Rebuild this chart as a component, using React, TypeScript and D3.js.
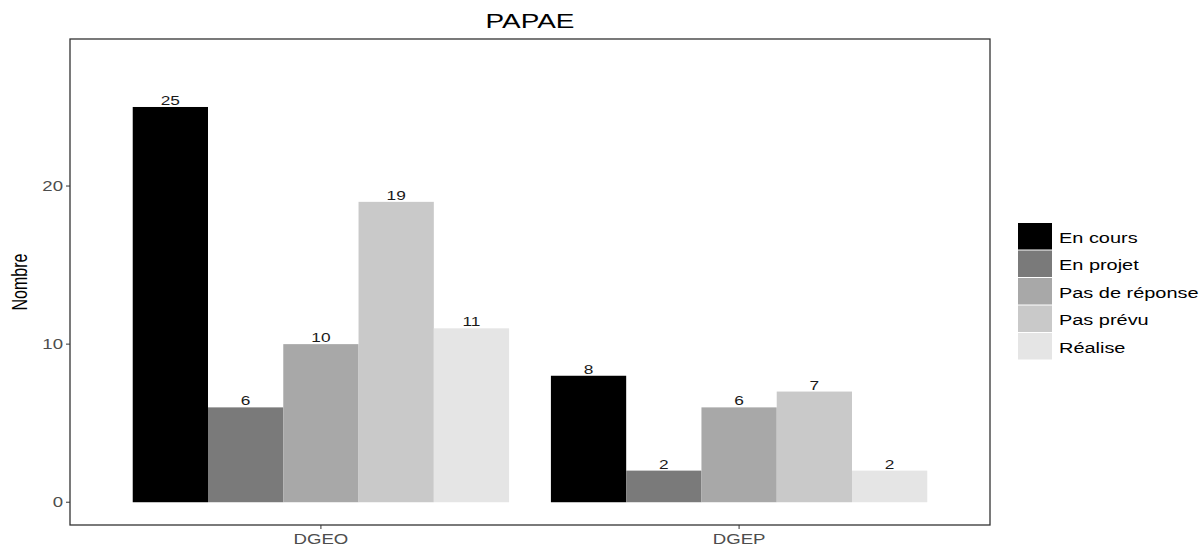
import { useEffect, useRef } from "react";
import * as d3 from "d3";

const groups = ["DGEO", "DGEP"];
const statuses = ["En cours", "En projet", "Pas de réponse", "Pas prévu", "Réalise"];
const dgeoValues = [25, 6, 10, 19, 11];
const dgepValues = [8, 2, 6, 7, 2];
const yTicks = [0, 10, 20];
const greys = ["#000000", "#7a7a7a", "#a8a8a8", "#c9c9c9", "#e5e5e5"];

const App = () => {
  const chartRef = useRef(null);

  useEffect(() => {
    if (!chartRef.current) return;
    const svg = d3.select(chartRef.current);
    svg.selectAll("*").remove();

    const width = 1201;
    const height = 546;
    const panel = { left: 70, right: 990, top: 39, bottom: 525 };
    const sx = 1.33; // the picture is stretched horizontally
    const font = "Liberation Sans, Arial, sans-serif";

    svg.attr("viewBox", [0, 0, width, height]);

    const rows = groups.map((g, i) => ({
      group: g,
      values: i === 0 ? dgeoValues : dgepValues,
    }));

    const x0 = d3
      .scaleBand()
      .domain(groups)
      .range([panel.left, panel.right])
      .paddingInner(0.1)
      .paddingOuter(0.15);
    const x1 = d3.scaleBand().domain(statuses).range([0, x0.bandwidth()]);
    const y = d3.scaleLinear().domain([-1.44, 29.3]).range([panel.bottom, panel.top]);
    const color = d3.scaleOrdinal<string, string>().domain(statuses).range(greys);

    // stretched text helper
    const text = (g: any, px: number, py: number, s: string, size: number, anchor: string, fill: string) =>
      g
        .append("text")
        .attr("transform", `translate(${px},${py}) scale(${sx},1)`)
        .attr("text-anchor", anchor)
        .attr("font-family", font)
        .attr("font-size", size)
        .attr("fill", fill)
        .text(s);

    svg.append("rect").attr("width", width).attr("height", height).attr("fill", "#fff");

    // bars
    const bars = svg
      .selectAll("g.grp")
      .data(rows)
      .join("g")
      .attr("class", "grp")
      .attr("transform", (d) => `translate(${x0(d.group)},0)`);

    bars
      .selectAll("rect")
      .data((d) => d.values.map((v, i) => ({ key: statuses[i], value: v })))
      .join("rect")
      .attr("x", (d) => x1(d.key)!)
      .attr("width", x1.bandwidth())
      .attr("y", (d) => y(d.value))
      .attr("height", (d) => y(0) - y(d.value))
      .attr("fill", (d) => color(d.key));

    bars.each(function (d) {
      const g = d3.select(this);
      d.values.forEach((v, i) => {
        text(g, x1(statuses[i])! + x1.bandwidth() / 2, y(v) - 2, String(v), 13, "middle", "#1a1a1a");
      });
    });

    // panel border
    svg
      .append("rect")
      .attr("x", panel.left)
      .attr("y", panel.top)
      .attr("width", panel.right - panel.left)
      .attr("height", panel.bottom - panel.top)
      .attr("fill", "none")
      .attr("stroke", "#333")
      .attr("stroke-width", 1.3);

    // y axis
    const ya = svg.append("g");
    yTicks.forEach((t) => {
      ya.append("line")
        .attr("x1", panel.left - 4)
        .attr("x2", panel.left)
        .attr("y1", y(t))
        .attr("y2", y(t))
        .attr("stroke", "#333");
      text(ya, panel.left - 7, y(t) + 5, String(t), 14, "end", "#4d4d4d");
    });

    // x axis
    const xa = svg.append("g");
    groups.forEach((g) => {
      const cx = x0(g)! + x0.bandwidth() / 2;
      xa.append("line")
        .attr("x1", cx)
        .attr("x2", cx)
        .attr("y1", panel.bottom)
        .attr("y2", panel.bottom + 4)
        .attr("stroke", "#333");
      text(xa, cx, panel.bottom + 19, g, 14, "middle", "#4d4d4d");
    });

    // y title
    svg
      .append("text")
      .attr("transform", `translate(27,${(panel.top + panel.bottom) / 2}) scale(${sx},1) rotate(-90)`)
      .attr("text-anchor", "middle")
      .attr("font-family", font)
      .attr("font-size", 16)
      .attr("fill", "#000")
      .text("Nombre");

    // title
    text(svg, (panel.left + panel.right) / 2, 28, "PAPAE", 21, "middle", "#000");

    // legend
    const lg = svg.append("g");
    const keyTop = 223;
    const keyH = 27.5;
    statuses.forEach((s, i) => {
      lg.append("rect")
        .attr("x", 1018)
        .attr("y", keyTop + i * keyH)
        .attr("width", 34)
        .attr("height", keyH - 1)
        .attr("fill", color(s));
      text(lg, 1059, keyTop + i * keyH + keyH / 2 + 6, s, 15, "start", "#000");
    });
  }, []);

  return (
    <svg
      ref={chartRef}
      width={1201}
      height={546}
      style={{ position: "absolute", left: 0, top: 0 }}
    ></svg>
  );
};

export default App;
